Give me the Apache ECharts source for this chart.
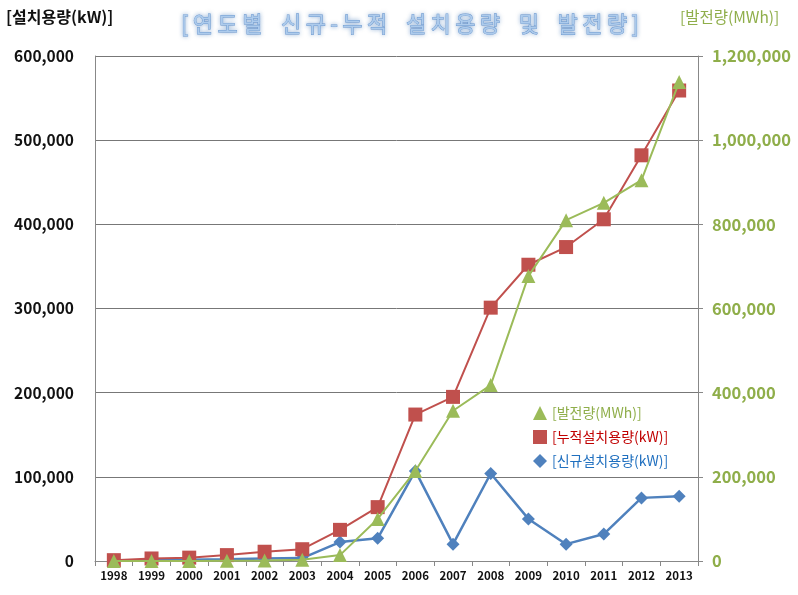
<!DOCTYPE html>
<html><head><meta charset="utf-8">
<script src="https://cdn.jsdelivr.net/npm/echarts@6/dist/echarts.min.js"></script>
<style>html,body{margin:0;padding:0;background:#fff}#c{width:798px;height:595px}</style>
</head><body><div id="c"></div>
<script>
const years = ['1998','1999','2000','2001','2002','2003','2004','2005','2006','2007','2008','2009','2010','2011','2012','2013'];
const generationMWh = [0, 0, 0, 500, 1000, 3000, 14000, 100000, 214000, 357000, 418000, 677000, 810000, 851000, 905000, 1138000];
const cumulativeKW = [1000, 3000, 4000, 7000, 11000, 14000, 37000, 64000, 174000, 195000, 301000, 352000, 373000, 406000, 482000, 559000];
const newKW = [500, 1000, 1500, 2000, 3000, 3500, 22500, 27000, 107000, 20000, 104000, 50000, 20000, 32000, 75000, 77000];
const leftTicks = [0, 100000, 200000, 300000, 400000, 500000, 600000];
const rightTicks = [0, 200000, 400000, 600000, 800000, 1000000, 1200000];
const titleText = '[연도별 신규-누적 설치용량 및 발전량]';

const fmt = v => v.toLocaleString('en-US');
const spaced = s => Array.from(s).join('\u2009');
const FONT = '"Noto Sans CJK KR", "Noto Sans", sans-serif';
const chart = echarts.init(document.getElementById('c'));
chart.setOption({
  animation: false,
  textStyle: {fontFamily: FONT},
  title: {
    text: spaced(titleText).replace(/ /g, '  '),
    left: 405, top: 8, textAlign: 'center',
    textStyle: {fontFamily: FONT, fontSize: 22, fontWeight: 'normal', color: '#ADCBEC',
      textBorderColor: '#6B97CE', textBorderWidth: 0.8,
      textShadowColor: 'rgba(79,129,189,0.5)', textShadowBlur: 4}
  },
  graphic: [
    {type: 'text', left: 6, top: 9, style: {text: '[설치용량(kW)]', fontFamily: FONT, fontSize: 16, fontWeight: 'bold', fill: '#111'}},
    {type: 'text', left: 680, top: 9, style: {text: '[발전량(MWh)]', fontFamily: FONT, fontSize: 15.5, fill: '#8FAE4A'}}
  ],
  legend: {
    orient: 'vertical', left: 528, top: 401, itemGap: 10, itemWidth: 14, itemHeight: 14,
    data: [
      {name: '[발전량(MWh)]', icon: 'triangle', textStyle: {color: '#8FAE4A'}},
      {name: '[누적설치용량(kW)]', icon: 'rect', textStyle: {color: '#C00000'}},
      {name: '[신규설치용량(kW)]', icon: 'diamond', textStyle: {color: '#1F6FBF'}}
    ],
    textStyle: {fontFamily: FONT, fontSize: 14}
  },
  grid: {left: 95, right: 100, top: 56, bottom: 34},
  xAxis: {
    type: 'category', data: years, boundaryGap: true,
    axisLine: {lineStyle: {color: '#888', width: 1}},
    axisTick: {show: true, lineStyle: {color: '#888'}, length: 5},
    axisLabel: {color: '#111', fontWeight: 'bold', fontSize: 11.5, margin: 9, fontFamily: FONT}
  },
  yAxis: [
    {type: 'value', min: leftTicks[0], max: leftTicks[leftTicks.length-1], interval: 100000, position: 'left',
     axisLine: {show: true, lineStyle: {color: '#888'}}, axisTick: {show: false},
     splitLine: {lineStyle: {color: '#777', width: 1}},
     axisLabel: {formatter: fmt, color: '#111', fontWeight: 'bold', fontSize: 15.5, margin: 21, fontFamily: FONT}},
    {type: 'value', min: rightTicks[0], max: rightTicks[rightTicks.length-1], interval: 200000, position: 'right',
     axisLine: {show: true, lineStyle: {color: '#888'}}, axisTick: {show: true, length: 5, lineStyle: {color: '#888'}},
     splitLine: {show: false},
     axisLabel: {formatter: fmt, color: '#8FAE4A', fontWeight: 'bold', fontSize: 16.5, margin: 14, fontFamily: FONT}}
  ],
  series: [
    {name: '[신규설치용량(kW)]', type: 'line', yAxisIndex: 0, data: newKW, symbol: 'diamond', symbolSize: 13,
     lineStyle: {color: '#4F81BD', width: 2.5}, itemStyle: {color: '#4F81BD'}, z: 3},
    {name: '[누적설치용량(kW)]', type: 'line', yAxisIndex: 0, data: cumulativeKW, symbol: 'rect', symbolSize: 14,
     lineStyle: {color: '#C0504D', width: 2}, itemStyle: {color: '#C0504D'}, z: 4},
    {name: '[발전량(MWh)]', type: 'line', yAxisIndex: 1, data: generationMWh, symbol: 'triangle', symbolSize: 14,
     lineStyle: {color: '#9BBB59', width: 2}, itemStyle: {color: '#9BBB59'}, z: 5}
  ]
});
</script></body></html>
